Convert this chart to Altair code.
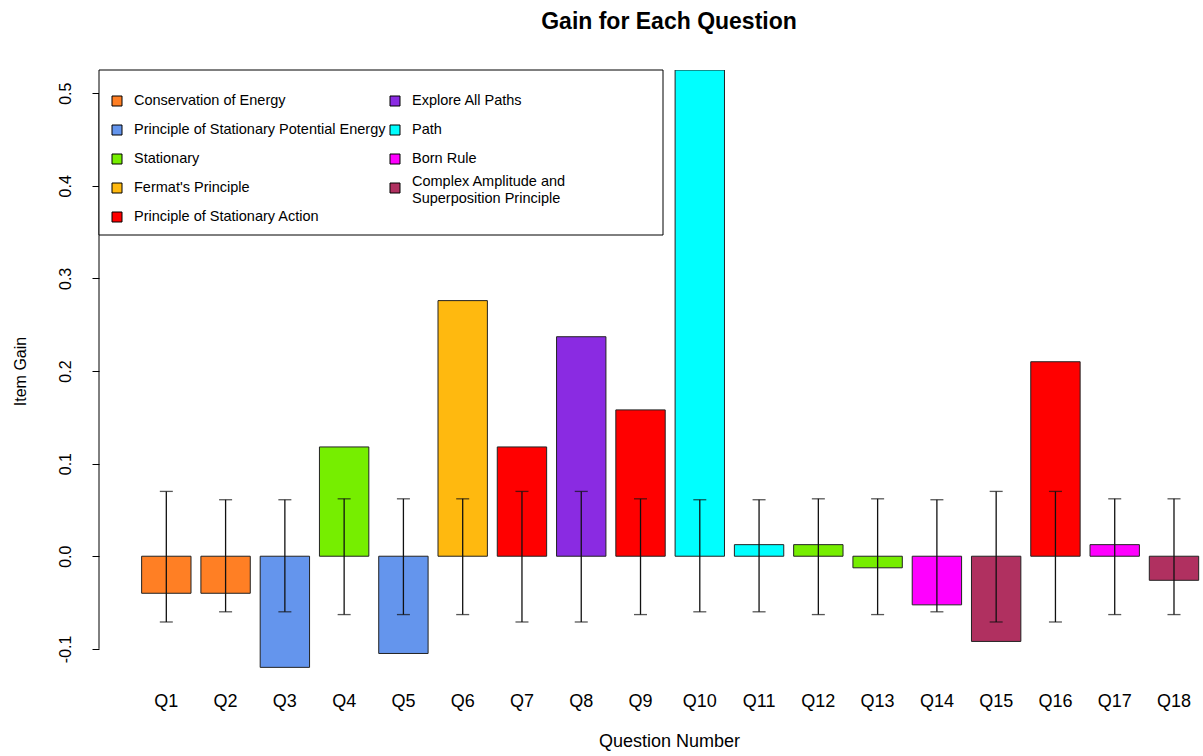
import altair as alt
import pandas as pd

# Item gain per question, with the lower/upper limits of the error bars
questions = ["Q1", "Q2", "Q3", "Q4", "Q5", "Q6", "Q7", "Q8", "Q9",
             "Q10", "Q11", "Q12", "Q13", "Q14", "Q15", "Q16", "Q17", "Q18"]
gains = [-0.04, -0.04, -0.12, 0.118, -0.105, 0.276, 0.118, 0.237, 0.158,
         0.525, 0.0125, 0.0125, -0.0125, -0.0525, -0.092, 0.21, 0.0125, -0.026]
err_low = [-0.071, -0.06, -0.06, -0.063, -0.063, -0.063, -0.071, -0.071, -0.063,
           -0.06, -0.06, -0.063, -0.063, -0.06, -0.071, -0.071, -0.063, -0.063]
err_high = [0.07, 0.061, 0.061, 0.062, 0.062, 0.062, 0.07, 0.07, 0.062,
            0.061, 0.061, 0.062, 0.062, 0.061, 0.07, 0.07, 0.062, 0.062]

# Concept tested by each question
concept_of = ["Conservation of Energy", "Conservation of Energy",
              "Principle of Stationary Potential Energy", "Stationary",
              "Principle of Stationary Potential Energy", "Fermat's Principle",
              "Principle of Stationary Action", "Explore All Paths",
              "Principle of Stationary Action", "Path", "Path", "Stationary",
              "Stationary", "Born Rule",
              "Complex Amplitude and Superposition Principle",
              "Principle of Stationary Action", "Born Rule",
              "Complex Amplitude and Superposition Principle"]

concepts = ["Conservation of Energy", "Principle of Stationary Potential Energy",
            "Stationary", "Fermat's Principle", "Principle of Stationary Action",
            "Explore All Paths", "Path", "Born Rule",
            "Complex Amplitude and Superposition Principle"]
concept_colors = ["#FF7F24", "#6495ED", "#76EE00", "#FFB90F", "#FF0000",
                  "#8A2BE2", "#00FFFF", "#FF00FF", "#B03060"]
legend_labels = ["Conservation of Energy", "Principle of Stationary Potential Energy",
                 "Stationary", "Fermat's Principle", "Principle of Stationary Action",
                 "Explore All Paths", "Path", "Born Rule",
                 "Complex Amplitude and\n\u00a0Superposition Principle"]
legend_col = [0, 0, 0, 0, 0, 1, 1, 1, 1]
legend_row = [0, 1, 2, 3, 4, 0, 1, 2, 3]

FONT = "Liberation Sans"

df = pd.DataFrame({"question": questions, "gain": gains, "lo": err_low,
                   "hi": err_high, "concept": concept_of})
leg = pd.DataFrame({"label": legend_labels, "color": concept_colors,
                    "col": legend_col, "row": legend_row})

x_enc = alt.X("question:N", sort=questions, title="Question Number",
              scale=alt.Scale(paddingInner=0.167, paddingOuter=0.396, align=0.908),
              axis=alt.Axis(labelAngle=0, ticks=False, domain=False, grid=False,
                            labelPadding=20, labelFontSize=18, labelFont=FONT,
                            labelColor="black", titleFontSize=18, titleFont=FONT,
                            titleFontWeight="normal", titleColor="black",
                            titlePadding=22, titleX=570))
y_scale = alt.Scale(domain=[-0.125, 0.525], nice=False, zero=False)
y_axis = alt.Axis(values=[-0.1, 0.0, 0.1, 0.2, 0.3, 0.4, 0.5], format=".1f",
                  labelExpr="replace(datum.label, '\u2212', '-')",
                  grid=False, domain=False, tickSize=7, tickColor="black",
                  labelAngle=270, labelAlign="center", labelBaseline="bottom",
                  labelPadding=19, labelFontSize=16, labelFont=FONT, labelColor="black",
                  title="Item Gain", titleFontSize=16, titleFont=FONT,
                  titleFontWeight="normal", titleColor="black", titleX=-79,
                  titleAlign="center", titleBaseline="middle")

base = alt.Chart(df)

bars = base.mark_bar(stroke="#222222", strokeWidth=1, clip=True).encode(
    x=x_enc,
    y=alt.Y("gain:Q", scale=y_scale, axis=y_axis),
    color=alt.Color("concept:N", scale=alt.Scale(domain=concepts, range=concept_colors),
                    legend=None),
)

err_rules = base.mark_rule(color="#111111", strokeWidth=1.3).encode(
    x=alt.X("question:N", sort=questions),
    y=alt.Y("lo:Q", scale=y_scale),
    y2="hi:Q",
)
cap_lo = base.mark_tick(color="#111111", thickness=1.3, size=13).encode(
    x=alt.X("question:N", sort=questions), y=alt.Y("lo:Q", scale=y_scale))
cap_hi = base.mark_tick(color="#111111", thickness=1.3, size=13).encode(
    x=alt.X("question:N", sort=questions), y=alt.Y("hi:Q", scale=y_scale))

axis_line = alt.Chart(pd.DataFrame({"a": [0]})).mark_rule(
    color="black", strokeWidth=1).encode(
    x=alt.value(0), y=alt.datum(-0.1, scale=y_scale), y2=alt.datum(0.5))

main = alt.layer(bars, err_rules, cap_lo, cap_hi, axis_line)

# Legend panel: framed box with two columns of swatches
box = alt.Chart(pd.DataFrame({"a": [0]})).mark_rect(
    fill="white", stroke="black", strokeWidth=1).encode(
    x=alt.value(0), x2=alt.value(564), y=alt.value(0), y2=alt.value(165))

lx = alt.X("col:Q", scale=alt.Scale(domain=[0, 1], range=[18, 296]), axis=None)
ly = alt.Y("row:Q", scale=alt.Scale(domain=[0, 4], range=[31, 147]), axis=None)
swatches = alt.Chart(leg).mark_square(size=100, stroke="black", strokeWidth=1,
                                      opacity=1).encode(
    x=lx, y=ly, fill=alt.Fill("color:N", scale=None))
text_style = dict(align="left", baseline="middle", dx=17, fontSize=14.5, font=FONT,
                  color="black", lineBreak="\n", lineHeight=17)
texts_single = alt.Chart(leg).transform_filter(
    "indexof(datum.label, '\\n') < 0").mark_text(**text_style).encode(
    x=lx, y=ly, text="label:N")
texts_multi = alt.Chart(leg).transform_filter(
    "indexof(datum.label, '\\n') >= 0").mark_text(dy=-6, **text_style).encode(
    x=lx, y=ly, text="label:N")

legend_layer = alt.layer(box, swatches, texts_single, texts_multi)

chart = alt.layer(main, legend_layer).resolve_scale(
    x="independent", y="independent", color="independent", fill="independent"
).properties(
    width=1104, height=602,
    title=alt.TitleParams("Gain for Each Question", fontSize=23, fontWeight="bold",
                          font=FONT, color="black", anchor="middle", frame="group",
                          dx=18, offset=18, baseline="alphabetic"),
    autosize=alt.AutoSizeParams(type="none"),
    padding={"left": 99, "top": 70, "right": 0, "bottom": 84},
).configure(
    background="white",
    view=alt.ViewConfig(stroke=None, strokeWidth=0),
)

chart.save("out.html", embed_options={"renderer": "svg", "actions": False})
